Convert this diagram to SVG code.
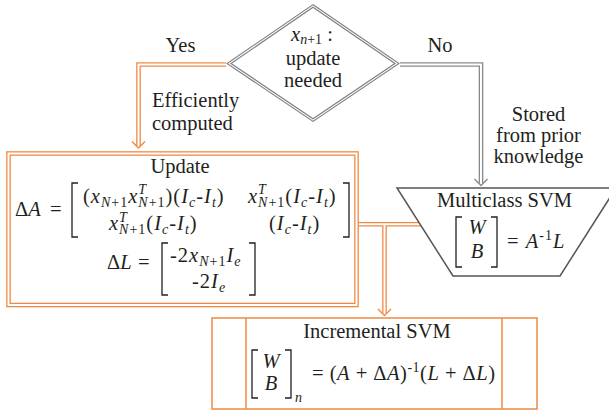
<svg xmlns="http://www.w3.org/2000/svg" width="609" height="411" viewBox="0 0 609 411">
<style>
.t{font-family:"Liberation Serif",serif;font-size:20.5px;fill:#231f20}
.i{font-style:italic}
.s{font-size:14px}
.m{letter-spacing:1px}
.ob{fill:none;stroke:#EE8A44;stroke-width:4.6}
.gb{fill:none;stroke:#8a8a8a;stroke-width:4.6}
.wb{fill:none;stroke:#fff;stroke-width:2}
.oa{fill:none;stroke:#EE8A44;stroke-width:1.4}
.ga{fill:none;stroke:#8a8a8a;stroke-width:1.4}
.br{fill:none;stroke:#231f20;stroke-width:1.3}
</style>
<rect width="609" height="411" fill="#fff"/>
<g id="connectors">
  <path class="ob" d="M226,64.5 H138.5 V146"/>
  <path class="wb" d="M226,64.5 H138.5 V146"/>
  <polyline class="oa" points="132,141.5 138.5,148 145,141.5"/>
  <path class="gb" d="M400,64.5 H481 V183"/>
  <path class="wb" d="M400,64.5 H481 V183"/>
  <polyline class="ga" points="474.5,179 481,185.5 487.5,179"/>
  <path class="ob" d="M359,224.3 H421 M384.5,224.3 V313"/>
  <path class="wb" d="M359,224.3 H421 M384.5,224.3 V313"/>
  <polyline class="oa" points="378,309 384.5,315.5 391,309"/>
</g>
<g id="decision">
  <polygon points="313,7.3 395,63.5 313,118.7 231,63.5" fill="#fff" stroke="#7f7f7f" stroke-width="5.5"/>
  <polygon points="313,7.3 395,63.5 313,118.7 231,63.5" fill="#fff" stroke="#fff" stroke-width="3.3"/>
  <polygon points="313,7.3 395,63.5 313,118.7 231,63.5" fill="#fff" stroke="#7f7f7f" stroke-width="1.2"/>
  <text class="t" x="312" y="41" text-anchor="middle"><tspan class="i">x</tspan><tspan class="s" dy="3"><tspan class="i">n</tspan>+1</tspan><tspan dy="-3"> :</tspan></text>
  <text class="t" x="313" y="65" text-anchor="middle">update</text>
  <text class="t" x="313" y="87" text-anchor="middle">needed</text>
</g>
<g id="labels">
  <text class="t" x="180.5" y="52" text-anchor="middle">Yes</text>
  <text class="t" x="440" y="52" text-anchor="middle">No</text>
  <text class="t" x="152" y="107">Efficiently</text>
  <text class="t" x="152" y="130">computed</text>
  <text class="t" x="538.5" y="121" text-anchor="middle">Stored</text>
  <text class="t" x="538.5" y="142" text-anchor="middle">from prior</text>
  <text class="t" x="538.5" y="163" text-anchor="middle">knowledge</text>
</g>
<g id="update">
  <rect x="8.5" y="153.5" width="348" height="151.5" fill="#fff" stroke="#EE8A44" stroke-width="4.6"/>
  <rect x="8.5" y="153.5" width="348" height="151.5" class="wb"/>
  <text class="t" x="180" y="173" text-anchor="middle">Update</text>
  <text class="t" x="15" y="216">Δ<tspan class="i">A</tspan></text>
  <text class="t" x="50" y="216">=</text>
  <path class="br" d="M78,183 H72 V237 H78 M343,183 H349 V237 H343"/>
  <text class="t m" x="83" y="203">(<tspan class="i">x</tspan><tspan class="s" dy="4"><tspan class="i">N</tspan>+1</tspan><tspan class="i" dy="-4">x</tspan><tspan class="s i" dy="-9">T</tspan><tspan class="s" dx="-8.8" dy="13"><tspan class="i">N</tspan>+1</tspan><tspan dy="-4">)(</tspan><tspan class="i">I</tspan><tspan class="s i" dy="4">c</tspan><tspan dy="-4">-</tspan><tspan class="i">I</tspan><tspan class="s i" dy="4">t</tspan><tspan dy="-4">)</tspan></text>
  <text class="t m" x="248" y="203"><tspan class="i">x</tspan><tspan class="s i" dy="-9">T</tspan><tspan class="s" dx="-8.8" dy="13"><tspan class="i">N</tspan>+1</tspan><tspan dy="-4">(</tspan><tspan class="i">I</tspan><tspan class="s i" dy="4">c</tspan><tspan dy="-4">-</tspan><tspan class="i">I</tspan><tspan class="s i" dy="4">t</tspan><tspan dy="-4">)</tspan></text>
  <text class="t m" x="109" y="230"><tspan class="i">x</tspan><tspan class="s i" dy="-8">T</tspan><tspan class="s" dx="-8.8" dy="12"><tspan class="i">N</tspan>+1</tspan><tspan dy="-4">(</tspan><tspan class="i">I</tspan><tspan class="s i" dy="4">c</tspan><tspan dy="-4">-</tspan><tspan class="i">I</tspan><tspan class="s i" dy="4">t</tspan><tspan dy="-4">)</tspan></text>
  <text class="t m" x="269" y="230">(<tspan class="i">I</tspan><tspan class="s i" dy="4">c</tspan><tspan dy="-4">-</tspan><tspan class="i">I</tspan><tspan class="s i" dy="4">t</tspan><tspan dy="-4">)</tspan></text>
  <text class="t" x="107" y="269">Δ<tspan class="i">L</tspan></text>
  <text class="t" x="138" y="269">=</text>
  <path class="br" d="M168,243 H162 V295 H168 M249,243 H255 V295 H249"/>
  <text class="t m" x="170" y="262">-2<tspan class="i">x</tspan><tspan class="s" dy="4"><tspan class="i">N</tspan>+1</tspan><tspan class="i" dy="-4">I</tspan><tspan class="s i" dy="4">e</tspan></text>
  <text class="t m" x="192" y="288">-2<tspan class="i">I</tspan><tspan class="s i" dy="4">e</tspan></text>
</g>
<g id="multiclass">
  <polygon points="397,188 616,188 560,276 453,276" fill="#fff" stroke="#555" stroke-width="1.5"/>
  <text class="t" x="504.5" y="207" text-anchor="middle">Multiclass SVM</text>
  <path class="br" d="M462,217 H456 V267 H462 M491,217 H497 V267 H491"/>
  <text class="t i" x="477" y="234" text-anchor="middle">W</text>
  <text class="t i" x="477" y="258" text-anchor="middle">B</text>
  <text class="t m" x="507" y="248">= <tspan class="i">A</tspan><tspan class="s" dy="-8">-1</tspan><tspan class="i" dy="8">L</tspan></text>
</g>
<g id="incremental">
  <rect x="212" y="318" width="325" height="91" fill="#fff" stroke="#EE8A44" stroke-width="1.5"/>
  <path d="M246,318 V409 M502,318 V409" stroke="#EE8A44" stroke-width="1.5"/>
  <text class="t" x="377" y="338" text-anchor="middle">Incremental SVM</text>
  <path class="br" d="M258,350 H252 V398 H258 M285,350 H291 V398 H285"/>
  <text class="t i" x="271" y="368" text-anchor="middle">W</text>
  <text class="t i" x="271" y="390" text-anchor="middle">B</text>
  <text class="t s i" x="295" y="402">n</text>
  <text class="t" x="312" y="380" style="letter-spacing:0.5px">= (<tspan class="i">A</tspan> + Δ<tspan class="i">A</tspan>)<tspan class="s" dy="-8">-1</tspan><tspan dy="8">(</tspan><tspan class="i">L</tspan> + Δ<tspan class="i">L</tspan>)</text>
</g>
</svg>
